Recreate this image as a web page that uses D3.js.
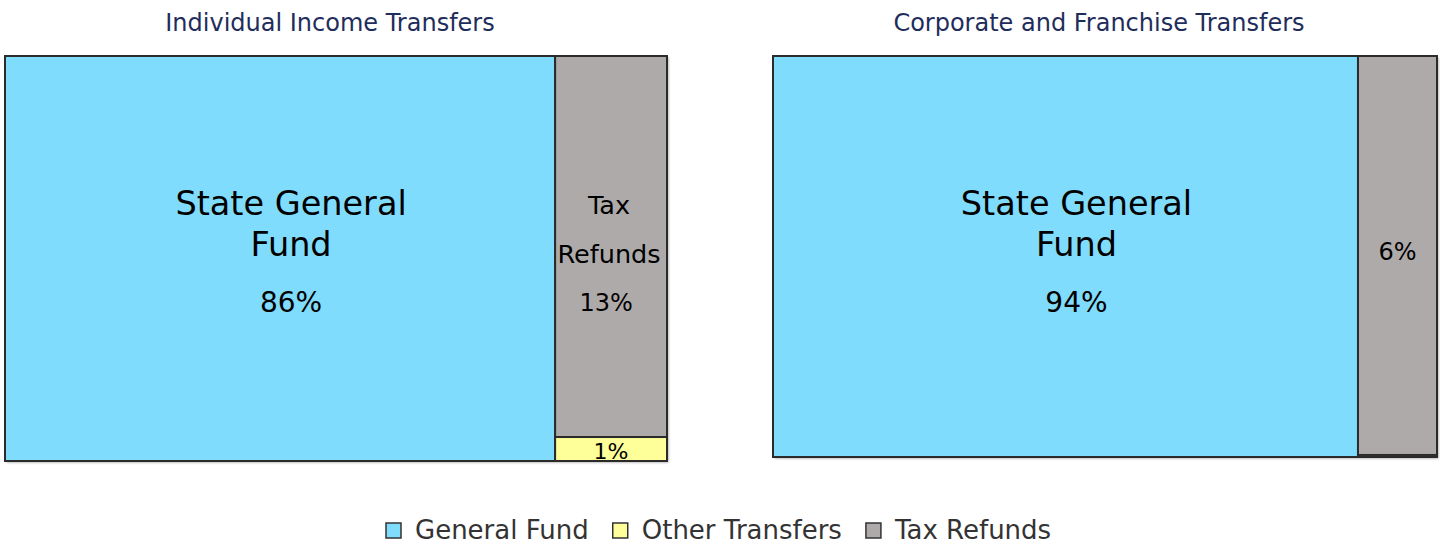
<!DOCTYPE html>
<html>
<head>
<meta charset="utf-8">
<script src="https://cdn.jsdelivr.net/npm/d3@7"></script>
<style>
  body { margin: 0; background: #fff; }
  svg { display: block; font-family: Tahoma, "DejaVu Sans", sans-serif; }
  .title { fill: #1f2d5c; font-size: 24px; }
  .legend text { fill: #333; font-size: 26px; }
</style>
</head>
<body>
<div id="container"></div>
<script>
// categories and values
let categories = ["General Fund", "Other Transfers", "Tax Refunds"];
let colors_tm = ["#80dcfc", "#ffff99", "#aeaaaa"];

let titles = ["Individual Income Transfers", "Corporate and Franchise Transfers"];

// area shares of each block (as drawn)
let individual_shares = [83.1, 1.0, 15.9];
let corporate_shares = [88.1, 0.06, 11.84];

// printed labels
let individual_labels = ["86%", "1%", "13%"];
let corporate_labels = ["94%", "", "6%"];
let individual_names = [["State General", "Fund"], [], ["Tax", "Refunds"]];
let corporate_names = [["State General", "Fund"], [], []];

let W = 1440, H = 545;

let svg = d3.select("#container")
  .append("svg")
  .attr("width", W)
  .attr("height", H);

let defs = svg.append("defs");
let filt = defs.append("filter").attr("id", "shadow")
  .attr("x", "-5%").attr("y", "-5%").attr("width", "110%").attr("height", "110%");
filt.append("feDropShadow")
  .attr("dx", 1.5).attr("dy", 1.5).attr("stdDeviation", 1)
  .attr("flood-color", "#000").attr("flood-opacity", 0.35);

let panels = [
  { x: 5, y: 56, w: 662, h: 405, shares: individual_shares, labels: individual_labels, names: individual_names, title: titles[0] },
  { x: 773, y: 56, w: 664, h: 401, shares: corporate_shares, labels: corporate_labels, names: corporate_names, title: titles[1] }
];

panels.forEach(p => drawTreemap(p));

function drawTreemap(p) {
  // General Fund on its own, the rest stacked in a column
  let tree = {
    name: "root",
    children: [
      { name: categories[0], idx: 0, value: p.shares[0] },
      { name: "rest", children: [
        { name: categories[2], idx: 2, value: p.shares[2] },
        { name: categories[1], idx: 1, value: p.shares[1] }
      ]}
    ]
  };

  let root = d3.hierarchy(tree).sum(d => d.value || 0);

  d3.treemap()
    .tile(d3.treemapSliceDice)
    .size([p.w, p.h])
    .round(false)(root);

  let g = svg.append("g")
    .attr("transform", `translate(${p.x}, ${p.y})`);

  svg.append("text")
    .attr("class", "title")
    .attr("x", p.x + p.w / 2 - 6)
    .attr("y", 31)
    .attr("text-anchor", "middle")
    .text(p.title);

  let leaves = root.leaves();

  g.append("rect")
    .attr("width", p.w).attr("height", p.h)
    .attr("fill", "#fff")
    .attr("filter", "url(#shadow)");

  let cells = g.selectAll("g.cell")
    .data(leaves)
    .enter()
    .append("g")
    .attr("class", "cell");

  cells.append("rect")
    .attr("x", d => d.x0)
    .attr("y", d => d.y0)
    .attr("width", d => d.x1 - d.x0)
    .attr("height", d => d.y1 - d.y0)
    .attr("fill", d => colors_tm[d.data.idx])
    .attr("stroke", "#2b2b2b")
    .attr("stroke-width", 2);

  //textos
  cells.each(function(d) {
    let i = d.data.idx;
    let cx = (d.x0 + d.x1) / 2;
    let sel = d3.select(this);
    let names = p.names[i];
    if (i === 0) {
      names.forEach((n, k) => {
        sel.append("text")
          .attr("x", cx + 11).attr("y", 159 + k * 41)
          .attr("text-anchor", "middle")
          .attr("font-size", 33.5)
          .attr("fill", "#000")
          .text(n);
      });
      sel.append("text")
        .attr("x", cx + 11).attr("y", 256)
        .attr("text-anchor", "middle")
        .attr("font-size", 28)
        .attr("fill", "#000")
        .text(p.labels[i]);
    } else if (i === 2) {
      names.forEach((n, k) => {
        sel.append("text")
          .attr("x", cx - 2).attr("y", 158 + k * 49)
          .attr("text-anchor", "middle")
          .attr("font-size", 25.5)
          .attr("fill", "#000")
          .text(n);
      });
      sel.append("text")
        .attr("x", names.length ? cx - 5 : cx).attr("y", names.length ? 255 : 204)
        .attr("text-anchor", "middle")
        .attr("font-size", 24)
        .attr("fill", "#000")
        .text(p.labels[i]);
    } else if (p.labels[i] !== "") {
      sel.append("text")
        .attr("x", cx).attr("y", d.y1 - 2)
        .attr("text-anchor", "middle")
        .attr("font-size", 22)
        .attr("fill", "#000")
        .text(p.labels[i]);
    }
  });
}

// legend
let legend = svg.append("g").attr("class", "legend");
let lx = 386;
categories.forEach((c, i) => {
  let item = legend.append("g").attr("transform", `translate(${lx}, 0)`);
  item.append("rect")
    .attr("x", 0).attr("y", 523)
    .attr("width", 15).attr("height", 15)
    .attr("fill", colors_tm[i])
    .attr("stroke", "#333")
    .attr("stroke-width", 1.5);
  let t = item.append("text")
    .attr("x", 29).attr("y", 539)
    .text(c);
  lx += 29 + t.node().getComputedTextLength() + 24;
});
</script>
</body>
</html>
